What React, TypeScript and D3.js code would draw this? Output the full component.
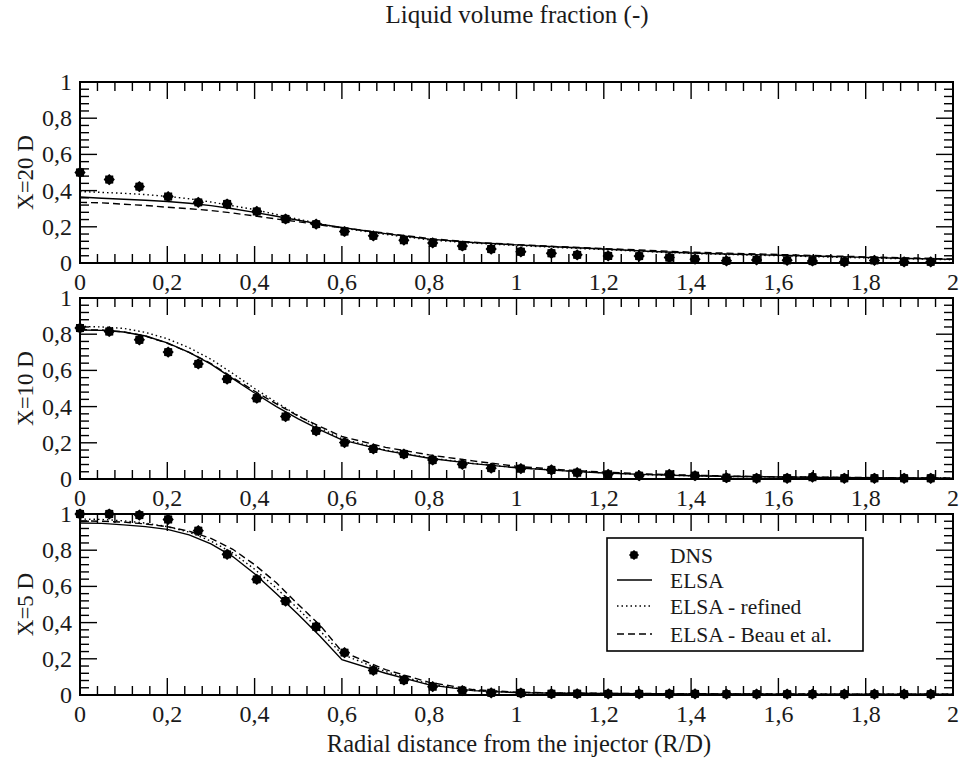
import React from "react";
import * as d3 from "d3";

const xTickValues = [0, 0.2, 0.4, 0.6, 0.8, 1, 1.2, 1.4, 1.6, 1.8, 2];
const xTickLabels = ["0", "0,2", "0,4", "0,6", "0,8", "1", "1,2", "1,4", "1,6", "1,8", "2"];
const yTickValues = [0, 0.2, 0.4, 0.6, 0.8, 1];
const yTickLabels = ["0", "0,2", "0,4", "0,6", "0,8", "1"];
const panelNames = ["X=20 D", "X=10 D", "X=5 D"];
const seriesNames = ["DNS", "ELSA", "ELSA - refined", "ELSA - Beau et al."];

const dnsR = [0, 0.067, 0.136, 0.202, 0.271, 0.337, 0.405, 0.471, 0.541, 0.606, 0.672, 0.742, 0.808, 0.876, 0.942, 1.01, 1.08, 1.139, 1.21, 1.281, 1.35, 1.409, 1.481, 1.55, 1.62, 1.678, 1.751, 1.82, 1.888, 1.949];
const dns20 = [0.5, 0.461, 0.422, 0.367, 0.335, 0.326, 0.285, 0.243, 0.215, 0.174, 0.15, 0.126, 0.111, 0.094, 0.077, 0.062, 0.054, 0.045, 0.039, 0.038, 0.03, 0.021, 0.012, 0.017, 0.015, 0.011, 0.006, 0.014, 0.006, 0.006];
const dns10 = [0.834, 0.815, 0.769, 0.701, 0.636, 0.552, 0.446, 0.345, 0.266, 0.201, 0.166, 0.138, 0.105, 0.081, 0.06, 0.057, 0.05, 0.035, 0.026, 0.018, 0.026, 0.018, 0.007, 0.004, 0.004, 0.01, 0.004, 0.004, 0.004, 0.004];
const dns5 = [1.0, 1.0, 0.994, 0.97, 0.908, 0.777, 0.639, 0.519, 0.377, 0.234, 0.136, 0.083, 0.046, 0.024, 0.012, 0.011, 0.007, 0.007, 0.006, 0.006, 0.006, 0.006, 0.005, 0.005, 0.005, 0.005, 0.005, 0.005, 0.005, 0.005];

const lineR = [0, 0.05, 0.1, 0.15, 0.2, 0.25, 0.3, 0.35, 0.4, 0.45, 0.5, 0.55, 0.6, 0.7, 0.8, 0.9, 1.0, 1.1, 1.2, 1.3, 1.4, 1.5, 1.6, 1.7, 1.8, 1.9, 2.0];
const elsa20 = [0.365, 0.358, 0.352, 0.347, 0.34, 0.33, 0.317, 0.3, 0.28, 0.258, 0.236, 0.215, 0.196, 0.162, 0.132, 0.113, 0.1, 0.088, 0.077, 0.065, 0.055, 0.048, 0.043, 0.037, 0.031, 0.025, 0.02];
const refined20 = [0.395, 0.39, 0.385, 0.378, 0.368, 0.355, 0.337, 0.316, 0.295, 0.268, 0.242, 0.217, 0.193, 0.158, 0.128, 0.11, 0.097, 0.085, 0.074, 0.063, 0.053, 0.046, 0.04, 0.034, 0.028, 0.023, 0.018];
const beau20 = [0.335, 0.332, 0.325, 0.318, 0.308, 0.3, 0.29, 0.276, 0.26, 0.243, 0.228, 0.21, 0.195, 0.165, 0.135, 0.115, 0.102, 0.09, 0.08, 0.07, 0.06, 0.053, 0.047, 0.04, 0.034, 0.028, 0.022];
const elsa10 = [0.823, 0.821, 0.812, 0.79, 0.752, 0.7, 0.635, 0.555, 0.475, 0.4, 0.332, 0.272, 0.216, 0.157, 0.115, 0.085, 0.062, 0.046, 0.033, 0.024, 0.018, 0.014, 0.011, 0.009, 0.007, 0.006, 0.005];
const refined10 = [0.843, 0.84, 0.832, 0.81, 0.775, 0.725, 0.662, 0.583, 0.5, 0.423, 0.35, 0.282, 0.222, 0.16, 0.117, 0.086, 0.063, 0.047, 0.034, 0.024, 0.018, 0.014, 0.011, 0.009, 0.007, 0.006, 0.005];
const beau10 = [0.825, 0.823, 0.813, 0.79, 0.75, 0.7, 0.638, 0.56, 0.485, 0.415, 0.348, 0.29, 0.235, 0.175, 0.133, 0.1, 0.07, 0.052, 0.038, 0.028, 0.021, 0.016, 0.012, 0.01, 0.008, 0.006, 0.005];
const elsa5 = [0.95, 0.948, 0.94, 0.93, 0.915, 0.885, 0.835, 0.765, 0.67, 0.56, 0.445, 0.325, 0.195, 0.12, 0.056, 0.024, 0.013, 0.01, 0.008, 0.007, 0.006, 0.006, 0.005, 0.005, 0.005, 0.005, 0.005];
const refined5 = [0.972, 0.97, 0.962, 0.95, 0.93, 0.9, 0.85, 0.785, 0.695, 0.59, 0.475, 0.355, 0.225, 0.13, 0.06, 0.025, 0.014, 0.01, 0.008, 0.007, 0.006, 0.006, 0.005, 0.005, 0.005, 0.005, 0.005];
const beau5 = [0.962, 0.96, 0.955, 0.945, 0.93, 0.905, 0.865, 0.805, 0.72, 0.62, 0.5, 0.385, 0.24, 0.14, 0.07, 0.03, 0.016, 0.011, 0.009, 0.008, 0.007, 0.006, 0.006, 0.005, 0.005, 0.005, 0.005];

const panelsData = [
  { dns: dns20, elsa: elsa20, refined: refined20, beau: beau20 },
  { dns: dns10, elsa: elsa10, refined: refined10, beau: beau10 },
  { dns: dns5, elsa: elsa5, refined: refined5, beau: beau5 },
];

const W = 961;
const H = 763;
const LEFT = 80;
const RIGHT = 953;
const PANEL_TOPS = [82, 298, 514];
const PANEL_H = 181;
const FONT = "Liberation Serif, DejaVu Serif, serif";

const x = d3.scaleLinear().domain([0, 2]).range([LEFT, RIGHT]);
const minorTicks = d3.range(0, 2.0001, 0.04);
const minorY = d3.range(0, 1.0001, 0.04);

const starPoints = (ro: number, ri: number) =>
  d3.range(16).map((i) => [(i * Math.PI) / 8, i % 2 === 0 ? ro : ri] as [number, number]);
const markerPath = (ro: number, ri: number) =>
  d3.lineRadial().curve(d3.curveLinearClosed)(starPoints(ro, ri)) as string;

const styles = [
  { dash: "none" },
  { dash: "1.5,3" },
  { dash: "7,4" },
];

const textStyle = { fontFamily: FONT, fill: "#1a1a1a" } as React.CSSProperties;

function Panel({ idx }: { idx: number }) {
  const top = PANEL_TOPS[idx];
  const y = d3.scaleLinear().domain([0, 1]).range([top + PANEL_H, top]);
  const data = panelsData[idx];
  const bottom = top + PANEL_H;
  const line = d3
    .line<number>()
    .x((_, i) => x(lineR[i]))
    .y((d) => y(d));
  const mk = markerPath(5.6, 4.5);
  const isMajor = (v: number) => Math.abs(v * 5 - Math.round(v * 5)) < 1e-6;
  return (
    <g>
      {[data.elsa, data.refined, data.beau].map((s, k) => (
        <path
          key={k}
          d={line(s) as string}
          fill="none"
          stroke="#000"
          strokeWidth={1.4}
          strokeDasharray={styles[k].dash}
        />
      ))}
      {data.dns.map((v, i) => (
        <path key={i} d={mk} transform={`translate(${x(dnsR[i])},${y(v)})`} fill="#000" />
      ))}
      {minorTicks.map((v, i) => {
        const len = isMajor(v) ? 17 : 9;
        return (
          <g key={"xt" + i}>
            <line x1={x(v)} x2={x(v)} y1={bottom} y2={bottom - len} stroke="#000" strokeWidth={1.4} />
            <line x1={x(v)} x2={x(v)} y1={top} y2={top + len} stroke="#000" strokeWidth={1.4} />
          </g>
        );
      })}
      {minorY.map((v, i) => {
        const len = isMajor(v) ? 17 : 9;
        return (
          <g key={"yt" + i}>
            <line x1={LEFT} x2={LEFT + len} y1={y(v)} y2={y(v)} stroke="#000" strokeWidth={1.4} />
            <line x1={RIGHT} x2={RIGHT - len} y1={y(v)} y2={y(v)} stroke="#000" strokeWidth={1.4} />
          </g>
        );
      })}
      <rect x={LEFT} y={top} width={RIGHT - LEFT} height={PANEL_H} fill="none" stroke="#000" strokeWidth={2} />
      {xTickValues.map((v, i) => (
        <text key={"xl" + i} x={x(v)} y={bottom + 27} textAnchor="middle" fontSize={24} style={textStyle}>
          {xTickLabels[i]}
        </text>
      ))}
      {yTickValues.map((v, i) => (
        <text key={"yl" + i} x={72} y={y(v) + 8} textAnchor="end" fontSize={24} style={textStyle}>
          {yTickLabels[i]}
        </text>
      ))}
      <text
        transform={`translate(33,${top + PANEL_H / 2}) rotate(-90)`}
        textAnchor="middle"
        fontSize={23}
        style={textStyle}
      >
        {panelNames[idx]}
      </text>
    </g>
  );
}

function Legend() {
  const lx = 607, ly = 538, lw = 256, lh = 113;
  const rows = [555, 580, 606, 634];
  return (
    <g>
      <rect x={lx} y={ly} width={lw} height={lh} fill="#fff" stroke="#000" strokeWidth={1.6} />
      <path d={markerPath(5.0, 4.0)} transform={`translate(634,${rows[0]})`} fill="#000" />
      {[1, 2, 3].map((k) => (
        <line
          key={k}
          x1={617}
          x2={652}
          y1={rows[k]}
          y2={rows[k]}
          stroke="#000"
          strokeWidth={1.4}
          strokeDasharray={styles[k - 1].dash}
        />
      ))}
      {seriesNames.map((n, i) => (
        <text key={i} x={670} y={rows[i] + 8} fontSize={21.5} style={textStyle}>
          {n}
        </text>
      ))}
    </g>
  );
}

export default function App() {
  return (
    <div style={{ position: "absolute", left: 0, top: 0 }}>
      <svg width={W} height={H} style={{ display: "block", background: "#fff" }}>
        <rect x={0} y={0} width={W} height={H} fill="#fff" />
        <text x={517} y={23} textAnchor="middle" fontSize={25} style={textStyle}>
          Liquid volume fraction (-)
        </text>
        {[0, 1, 2].map((i) => (
          <Panel key={i} idx={i} />
        ))}
        <Legend />
        <text x={519} y={752} textAnchor="middle" fontSize={24.5} style={textStyle}>
          Radial distance from the injector (R/D)
        </text>
      </svg>
    </div>
  );
}
